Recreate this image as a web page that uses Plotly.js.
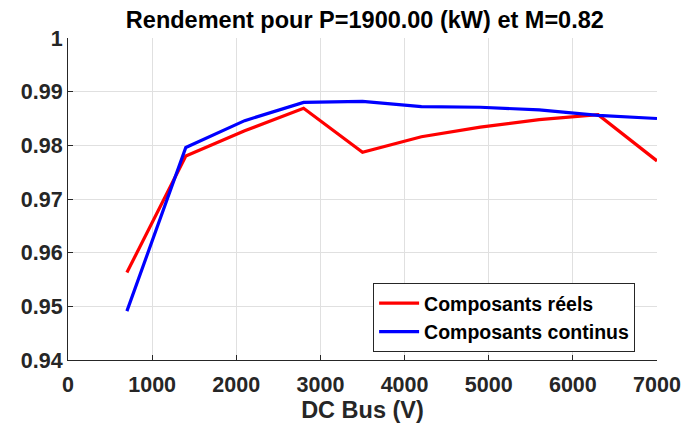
<!DOCTYPE html>
<html><head><meta charset="utf-8">
<script src="https://cdn.plot.ly/plotly-3.0.1.min.js"></script>
<style>html,body{margin:0;padding:0;background:#fff}#c{width:682px;height:432px}</style>
</head><body><div id="c"></div>
<script>
const dcBus = [700, 1400, 2100, 2800, 3500, 4200, 4900, 5600, 6300, 7000];
const reels = [0.9563, 0.9780, 0.9827, 0.9869, 0.9787, 0.9816, 0.9834, 0.9848, 0.9857, 0.9771];
const continus = [0.9491, 0.9796, 0.9846, 0.9880, 0.9882, 0.9872, 0.9871, 0.9866, 0.9856, 0.9850];
const seriesNames = ["Composants réels", "Composants continus"];
const xTicks = [0, 1000, 2000, 3000, 4000, 5000, 6000, 7000];
const yTicks = [0.94, 0.95, 0.96, 0.97, 0.98, 0.99, 1];
const yTickText = ["0.94", "0.95", "0.96", "0.97", "0.98", "0.99", "1"];

const font = "Liberation Sans, Arial, sans-serif";
const traces = [
  {x: dcBus, y: reels, name: seriesNames[0], mode: "lines", line: {color: "#ff0000", width: 3.2}},
  {x: dcBus, y: continus, name: seriesNames[1], mode: "lines", line: {color: "#0000ff", width: 3.2}}
];
const axisCommon = {
  showgrid: true, gridcolor: "#e0e0e0", gridwidth: 1,
  zeroline: false, showline: true, linecolor: "#262626", linewidth: 1,
  ticks: "inside", ticklen: 5, tickcolor: "#262626",
  tickfont: {family: font, size: 21.5, color: "#262626", weight: "bold"}
};
const layout = {
  width: 682, height: 432,
  margin: {l: 68, r: 25, t: 38, b: 72},
  paper_bgcolor: "#fff", plot_bgcolor: "#fff",
  title: {text: "<b>Rendement pour P=1900.00 (kW) et M=0.82</b>", x: 0.535, xanchor: "center", y: 0.955, yanchor: "middle",
          font: {family: font, size: 23.5, color: "#000"}},
  xaxis: Object.assign({}, axisCommon, {range: [0, 7000], tickvals: xTicks, ticklabelstandoff: 5,
          title: {text: "<b>DC Bus (V)</b>", font: {family: font, size: 23.5, color: "#262626"}, standoff: 4}}),
  yaxis: Object.assign({}, axisCommon, {range: [0.94, 1], tickvals: yTicks, ticktext: yTickText}),
  showlegend: true,
  legend: {x: 0.518, y: 0.239, xanchor: "left", yanchor: "top", bgcolor: "#fff",
           bordercolor: "#262626", borderwidth: 1,
           font: {family: font, size: 19.5, color: "#000", weight: "bold"},
           itemwidth: 40, tracegroupgap: 0}
};
Plotly.newPlot("c", traces, layout, {displayModeBar: false, staticPlot: true});
</script></body></html>
